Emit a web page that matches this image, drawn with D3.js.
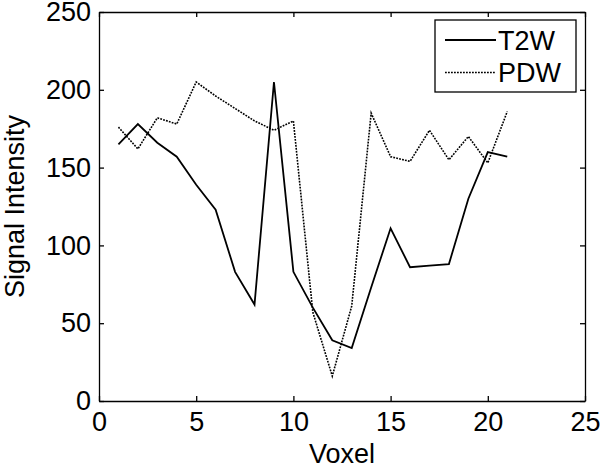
<!DOCTYPE html>
<html>
<head>
<meta charset="utf-8">
<script src="https://cdn.jsdelivr.net/npm/d3@7"></script>
<style>
  body { margin: 0; background: #fff; }
  text { font-family: "Liberation Sans", Arial, sans-serif; fill: #000; }
</style>
</head>
<body>
<script>
const w = 600;
const h = 469;

// data
const voxels = d3.range(1, 22);
const t2w = [165, 178, 166, 157, 139, 123, 83, 62, 205, 83, 60, 39, 34, 73, 111, 86, 87, 88, 130, 160, 157];
const pdw = [176, 162, 182, 178, 205, 196, 188, 180, 174, 180, 57, 16, 61, 185, 157, 154, 174, 155, 170, 153, 186];
const xTicks = [0, 5, 10, 15, 20, 25];
const yTicks = [0, 50, 100, 150, 200, 250];
const seriesNames = ["T2W", "PDW"];

// plot box
const plotLeft = 99, plotRight = 585, plotTop = 12, plotBottom = 401;

const svg = d3.select("body").append("svg").attr("width", w).attr("height", h);

const xScale = d3.scaleLinear().domain([0, 25]).range([plotLeft, plotRight]);
const yScale = d3.scaleLinear().domain([0, 250]).range([plotBottom, plotTop]);

//axes (ticks point inward, like matlab)
const xAxis = d3.axisBottom(xScale).tickValues(xTicks).tickSizeInner(-5).tickSizeOuter(0).tickPadding(11);
const yAxis = d3.axisLeft(yScale).tickValues(yTicks).tickSizeInner(-5).tickSizeOuter(0).tickPadding(8);

const gx = svg.append("g").attr("transform", "translate(0," + plotBottom + ")").call(xAxis);
const gy = svg.append("g").attr("transform", "translate(" + plotLeft + ",0)").call(yAxis);

svg.append("g").attr("transform", "translate(0," + plotTop + ")")
  .call(d3.axisTop(xScale).tickValues(xTicks).tickSizeInner(-5).tickSizeOuter(0).tickFormat(""));
svg.append("g").attr("transform", "translate(" + plotRight + ",0)")
  .call(d3.axisRight(yScale).tickValues(yTicks).tickSizeInner(-5).tickSizeOuter(0).tickFormat(""));

svg.selectAll(".domain").attr("stroke", "#000").attr("stroke-width", 1.3);
svg.selectAll(".tick line").attr("stroke", "#000").attr("stroke-width", 1.3);
svg.selectAll(".tick text").style("font-size", "27px").attr("fill", "#000");
gx.selectAll(".tick text").attr("dy", "0.71em");

// lines
const line = d3.line().x((d, i) => xScale(voxels[i])).y((d) => yScale(d));

svg.append("path")
  .datum(t2w)
  .attr("d", line)
  .attr("fill", "none")
  .attr("stroke", "#000")
  .attr("stroke-width", 1.8);

svg.append("path")
  .datum(pdw)
  .attr("d", line)
  .attr("fill", "none")
  .attr("stroke", "#000")
  .attr("stroke-width", 1.6)
  .attr("stroke-dasharray", "1.8,1.2");

// axis labels
svg.append("text")
  .attr("x", (plotLeft + plotRight) / 2)
  .attr("y", 463)
  .attr("text-anchor", "middle")
  .style("font-size", "27px")
  .text("Voxel");

svg.append("text")
  .attr("transform", "translate(24," + (plotTop + plotBottom) / 2 + ") rotate(-90)")
  .attr("text-anchor", "middle")
  .style("font-size", "27px")
  .text("Signal Intensity");

//legend
const legend = svg.append("g");
legend.append("rect")
  .attr("x", 435).attr("y", 20).attr("width", 141).attr("height", 72)
  .attr("fill", "#fff").attr("stroke", "#000").attr("stroke-width", 1.3);

seriesNames.forEach((name, i) => {
  const ly = 40 + i * 32.5;
  legend.append("line")
    .attr("x1", 445).attr("x2", 496)
    .attr("y1", ly).attr("y2", ly)
    .attr("stroke", "#000")
    .attr("stroke-width", i === 0 ? 1.8 : 1.6)
    .attr("stroke-dasharray", i === 0 ? null : "1.8,1.2");
  legend.append("text")
    .attr("x", 498)
    .attr("y", ly + 9.5)
    .style("font-size", "27px")
    .text(name);
});
</script>
</body>
</html>
